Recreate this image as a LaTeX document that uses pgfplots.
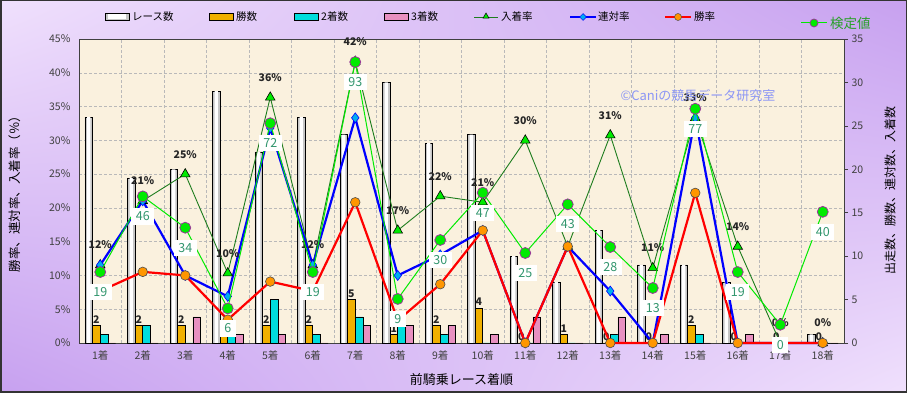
\documentclass[border=0pt]{standalone}
\usepackage{fontspec}
\setmainfont{Noto Sans CJK JP}
\usepackage{pgfplots}
\pgfplotsset{compat=1.18}
\usepackage{pgfplotstable}
\usetikzlibrary{shapes.geometric}
\pgfplotsset{/pgf/number format/assume math mode=true}

\definecolor{beige}{RGB}{250,241,222}
\definecolor{barGold}{RGB}{240,176,0}
\definecolor{barCyan}{RGB}{0,221,221}
\definecolor{barPink}{RGB}{232,144,192}
\definecolor{lgreen}{RGB}{0,235,0}
\definecolor{dgreen}{RGB}{30,125,30}
\definecolor{kgreen}{RGB}{40,160,40}
\definecolor{lblgreen}{RGB}{50,150,110}
\definecolor{mpurple}{RGB}{160,40,160}
\definecolor{orangeM}{RGB}{255,150,0}
\definecolor{wm}{RGB}{140,150,245}
\definecolor{tickc}{RGB}{64,64,64}

\pgfdeclarefunctionalshading{bgsaddle}{\pgfpoint{0bp}{0bp}}{\pgfpoint{100bp}{100bp}}{}{
25 sub 50 div exch 25 sub 50 div exch
2 copy mul 2 mul neg 3 1 roll add add
dup dup
0.05 mul 0.94 add
3 1 roll
0.25 mul 0.63 add
exch
0.16 mul 0.78 add
3 1 roll exch
}

% x race win sec thr ent ren sho kt ktl entl
\pgfplotstableread{
x  race win sec thr ent   ren   sho   kt    ktl entl
1  26   2   1   0   11.54 11.54 7.69  8.17  19  12
2  19   2   2   0   21.05 21.05 10.53 16.88 46  21
3  20   2   0   3   25.00 10.00 10.00 13.27 34  25
4  29   1   1   1   10.34 6.90  3.45  3.98  6   10
5  22   2   5   1   36.36 31.82 9.09  25.30 72  36
6  26   2   1   0   11.54 11.54 7.69  8.17  19  12
7  24   5   3   2   41.67 33.33 20.83 32.35 93  42
8  30   1   2   2   16.67 10.00 3.33  5.07  9   17
9  23   2   1   2   21.74 13.04 8.70  11.86 30  22
10 24   4   0   1   20.83 16.67 16.67 17.30 47  21
11 10   0   0   3   30.00 0.00  0.00  10.36 25  30
12 7    1   0   0   14.29 14.29 14.29 15.96 43  14
13 13   0   1   3   30.77 7.69  0.00  11.05 28  31
14 9    0   0   1   11.11 0.00  0.00  6.33  13  11
15 9    2   1   0   33.33 33.33 22.22 26.97 77  33
16 7    0   0   1   14.29 0.00  0.00  8.17  19  14
17 0    0   0   0   0.00  0.00  0.00  2.10  0   0
18 1    0   0   0   0.00  0.00  0.00  15.10 40  0
}\data

\pgfplotsset{
  base/.style={at={(79pt,50pt)}, anchor=south west, scale only axis,
    width=765pt, height=304pt, xmin=0.5, xmax=18.5},
}

\begin{document}
\begin{tikzpicture}
\shade[use as bounding box, shading=bgsaddle] (0,0) rectangle (907pt,393pt);

% axis 0: background, grid, left ticks
\begin{axis}[base, ymin=0, ymax=45,
  axis background/.style={fill=beige},
  xtick={1.5,2.5,...,17.5}, xticklabels={},
  ytick={0,5,...,45}, ytick pos=left,
  xmajorgrids, ymajorgrids,
  grid style={densely dashed, gray!55, line width=0.4pt},
  major tick length=0pt,
  yticklabel={\pgfmathprintnumber{\tick}\%},
  yticklabel style={font=\fontsize{10.5}{12}\selectfont, text=tickc, xshift=-5pt},
  axis line style={draw=none},
  ylabel={勝率、連対率、入着率（％）},
  every axis y label/.style={at={(axis description cs:0,0.5)}, xshift=-64pt, rotate=90, anchor=center, font=\fontsize{12.5}{14}\selectfont, text=black},
]
\addplot[draw=none] coordinates {(1,0)};
\end{axis}

% axis 1: bars, right ticks, x ticks
\begin{axis}[base, ymin=0, ymax=35,
  ybar=0pt, bar width=7.7pt,
  xtick={1,...,18},
  xticklabels={1着,2着,3着,4着,5着,6着,7着,8着,9着,10着,11着,12着,13着,14着,15着,16着,17着,18着},
  ytick={0,5,...,35}, ytick pos=right, yticklabel pos=right,
  tick align=outside, major tick length=4pt,
  xtick style={draw=none}, ytick style={draw=tickc, line width=0.5pt},
  ticklabel style={font=\fontsize{10.5}{12}\selectfont, text=tickc},
  axis line style={draw=black!75, line width=0.8pt},
  clip=false,
  xlabel={前騎乗レース着順},
  every axis x label/.style={at={(axis description cs:0.5,0)}, yshift=-37pt, anchor=center, font=\fontsize{13}{15}\selectfont, text=black},
  ylabel={出走数、勝数、連対数、入着数},
  every axis y label/.style={at={(axis description cs:1,0.5)}, xshift=46pt, rotate=90, anchor=center, font=\fontsize{12}{14}\selectfont, text=black},
]
\addplot[draw=black, line width=0.6pt, fill=gray!45, bar shift=-11.55pt] table[x=x, y=race]{\data};
\addplot[draw=none, fill=white, bar width=3.4pt, bar shift=-11.55pt] table[x=x, y=race]{\data};
\addplot[draw=black, line width=0.6pt, fill=barGold, bar shift=-3.85pt,
  nodes near coords, point meta=explicit,
  every node near coord/.append style={font=\bfseries\fontsize{10.5}{12}\selectfont, text=black!85, inner sep=1pt, yshift=1pt}]
  table[x=x, y=win, meta=win]{\data};
\addplot[draw=black, line width=0.6pt, fill=barCyan, bar shift=3.85pt] table[x=x, y=sec]{\data};
\addplot[draw=black, line width=0.6pt, fill=barPink, bar shift=11.55pt] table[x=x, y=thr]{\data};
\end{axis}

% axis 2: percentage lines
\begin{axis}[base, ymin=0, ymax=45, hide axis, clip=false]
\addplot[dgreen, line width=0.9pt, mark=triangle*, mark size=5.5pt,
  mark options={fill=lgreen, draw=black, line width=0.6pt, solid},
  nodes near coords={\pgfmathprintnumber{\pgfplotspointmeta}\%}, point meta=explicit,
  every node near coord/.append style={font=\bfseries\fontsize{10.5}{12}\selectfont, text=black!85, anchor=center, yshift=20pt}]
  table[x=x, y=ent, meta=entl]{\data};
\addplot[blue, line width=2.2pt, mark=diamond*, mark size=5pt,
  mark options={fill=cyan, draw=blue, line width=0.6pt}]
  table[x=x, y=ren]{\data};
\addplot[red, line width=2.2pt, mark=*, mark size=4.8pt,
  mark options={fill=orangeM, draw=black!70, line width=0.6pt}]
  table[x=x, y=sho]{\data};
\end{axis}

% axis 3: test value
\begin{axis}[base, ymin=0, ymax=35, hide axis, clip=false]
\addplot[lgreen, line width=1pt, mark=*, mark size=5.5pt,
  mark options={fill=lgreen, draw=mpurple, line width=0.7pt},
  nodes near coords, point meta=explicit,
  every node near coord/.append style={anchor=center, yshift=-20pt, fill=white, text=lblgreen,
    font=\fontsize{12.5}{14}\selectfont, inner xsep=4.5pt, inner ysep=3.5pt}]
  table[x=x, y=kt, meta=ktl]{\data};
\end{axis}

% watermark
\node[text=wm, font=\fontsize{13}{15}\selectfont, anchor=center] at (698pt,297pt) {©Caniの競馬データ研究室};

% legend
\begin{scope}[font=\fontsize{10.5}{12}\selectfont]
\draw[black, line width=0.6pt, fill=gray!45] (105pt,372.5pt) rectangle (129pt,379.5pt);
\fill[white] (108pt,373.5pt) rectangle (126pt,378.5pt);
\node[anchor=west, inner sep=0pt] at (132pt,376pt) {レース数};
\draw[black, line width=0.6pt, fill=barGold] (209pt,372.5pt) rectangle (233pt,379.5pt);
\node[anchor=west, inner sep=0pt] at (236pt,376pt) {勝数};
\draw[black, line width=0.6pt, fill=barCyan] (294pt,372.5pt) rectangle (318pt,379.5pt);
\node[anchor=west, inner sep=0pt] at (321pt,376pt) {2着数};
\draw[black, line width=0.6pt, fill=barPink] (384pt,372.5pt) rectangle (408pt,379.5pt);
\node[anchor=west, inner sep=0pt] at (411pt,376pt) {3着数};
\draw[dgreen, line width=0.9pt] (474pt,376pt) -- (498pt,376pt);
\node[draw=black, fill=lgreen, regular polygon, regular polygon sides=3, inner sep=0pt, minimum size=7pt, line width=0.5pt] at (486pt,376.5pt) {};
\node[anchor=west, inner sep=0pt] at (501pt,376pt) {入着率};
\draw[blue, line width=2pt] (570pt,376pt) -- (596pt,376pt);
\node[draw=blue, fill=cyan, diamond, inner sep=0pt, minimum size=7pt, line width=0.5pt] at (583pt,376pt) {};
\node[anchor=west, inner sep=0pt] at (598pt,376pt) {連対率};
\draw[red, line width=2pt] (665pt,376pt) -- (691pt,376pt);
\draw[fill=orangeM, draw=black!70, line width=0.5pt] (678pt,376pt) circle (3.5pt);
\node[anchor=west, inner sep=0pt] at (694pt,376pt) {勝率};
\draw[lgreen, line width=1pt] (801pt,370pt) -- (827pt,370pt);
\draw[fill=lgreen, draw=mpurple, line width=0.7pt] (814pt,370pt) circle (4pt);
\node[anchor=west, inner sep=0pt, text=kgreen, font=\fontsize{13.5}{15}\selectfont] at (830pt,370pt) {検定値};
\end{scope}

\draw[black!80, line width=1.5pt] (0.75pt,0.75pt) rectangle (906.25pt,392.25pt);
\end{tikzpicture}
\end{document}
